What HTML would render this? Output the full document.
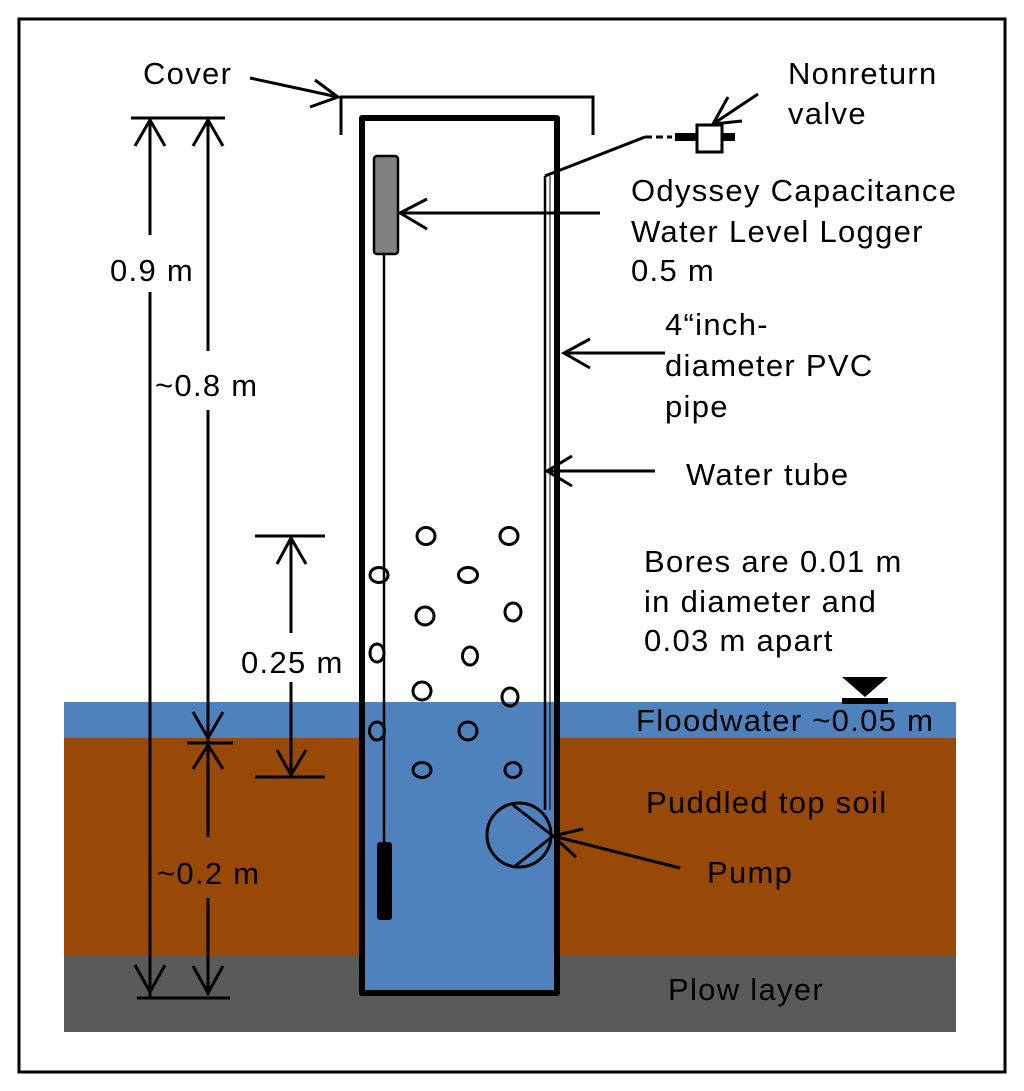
<!DOCTYPE html>
<html><head><meta charset="utf-8"><style>
html,body{margin:0;padding:0;background:#fff}
svg{display:block}
text{font-family:"Liberation Sans",Arial,sans-serif;font-size:31px;letter-spacing:1.3px;fill:#000}
</style></head><body>
<svg width="1024" height="1091" viewBox="0 0 1024 1091" xmlns="http://www.w3.org/2000/svg">
<rect x="19" y="19" width="986" height="1053" fill="#fff" stroke="#000" stroke-width="3"/>
<rect x="64" y="702" width="892" height="36" fill="#4f81bd"/>
<rect x="64" y="738" width="892" height="217" fill="#984807"/>
<rect x="64" y="955" width="892" height="77" fill="#5a5a5a"/>
<rect x="362" y="702" width="195" height="291" fill="#4f81bd"/>
<rect x="362" y="118" width="195" height="875" fill="none" stroke="#000" stroke-width="6" stroke-linejoin="round"/>
<polyline points="341,135 341,97 593,97 593,135" fill="none" stroke="#000" stroke-width="3"/>
<line x1="250" y1="78" x2="338" y2="97" stroke="#000" stroke-width="3"/>
<polyline points="315,80 338,97 310,107" fill="none" stroke="#000" stroke-width="3"/>
<rect x="374" y="156" width="24" height="98" rx="3" fill="#808080" stroke="#000" stroke-width="2.5"/>
<line x1="384" y1="254" x2="384" y2="843" stroke="#000" stroke-width="2.5"/>
<rect x="377" y="842" width="15" height="78" rx="3" fill="#000"/>
<line x1="600" y1="213" x2="400" y2="213" stroke="#000" stroke-width="3"/>
<polyline points="427,199 400,213 427,229" fill="none" stroke="#000" stroke-width="3"/>
<line x1="545" y1="176" x2="545" y2="810" stroke="#000" stroke-width="2.5"/>
<line x1="550" y1="176" x2="550" y2="810" stroke="#000" stroke-width="1"/>
<line x1="545" y1="176" x2="645" y2="137" stroke="#000" stroke-width="3"/>
<line x1="645" y1="137" x2="672" y2="137" stroke="#000" stroke-width="3" stroke-dasharray="7,4"/>
<rect x="675" y="133" width="22" height="8" fill="#000"/>
<rect x="722" y="133" width="13" height="8" fill="#000"/>
<rect x="697" y="125" width="25" height="27" fill="#fff" stroke="#000" stroke-width="3"/>
<line x1="728" y1="97" x2="713" y2="124" stroke="#000" stroke-width="3"/>
<line x1="758" y1="94" x2="713" y2="124" stroke="#000" stroke-width="3"/>
<line x1="742" y1="121" x2="713" y2="124" stroke="#000" stroke-width="3"/>
<line x1="665" y1="353" x2="564" y2="353" stroke="#000" stroke-width="3"/>
<polyline points="590,339 564,353 590,368" fill="none" stroke="#000" stroke-width="3"/>
<line x1="655" y1="471" x2="547" y2="471" stroke="#000" stroke-width="3"/>
<polyline points="572,456 547,471 572,486" fill="none" stroke="#000" stroke-width="3"/>
<g fill="none" stroke="#000" stroke-width="3">
<ellipse cx="426" cy="536" rx="9" ry="8.5"/><ellipse cx="509" cy="536" rx="9" ry="8.5"/>
<ellipse cx="379" cy="575" rx="9" ry="7.5"/><ellipse cx="468" cy="575" rx="9.5" ry="7.5"/>
<ellipse cx="425" cy="616" rx="9" ry="9"/><ellipse cx="513" cy="612" rx="8" ry="9"/>
<ellipse cx="377" cy="653" rx="7" ry="9"/><ellipse cx="470" cy="656" rx="7.5" ry="9"/>
<ellipse cx="422" cy="691" rx="9" ry="9"/><ellipse cx="510" cy="697" rx="8" ry="9"/>
<ellipse cx="377" cy="731" rx="7.5" ry="9"/><ellipse cx="468" cy="731" rx="9" ry="9"/>
<ellipse cx="422" cy="770" rx="9" ry="7.5"/><ellipse cx="513" cy="770" rx="8" ry="7.5"/>
<circle cx="519" cy="835" r="32"/>
<polyline points="513,805 553,836 514,867"/>
<line x1="553" y1="836" x2="680" y2="868"/>
<polyline points="583,829 553,836 576,857"/>
</g>
<polygon points="842,677 888,677 865,697" fill="#000"/>
<rect x="842" y="698" width="46" height="6" fill="#000"/>
<g stroke="#000" stroke-width="3" fill="none">
<line x1="131" y1="118" x2="225" y2="118"/>
<line x1="150" y1="118" x2="150" y2="235"/>
<line x1="150" y1="292" x2="150" y2="998"/>
<polyline points="135,146 150,120 165,146"/>
<line x1="137" y1="998" x2="230" y2="998"/>
<polyline points="135,965 150,992 165,965"/>
<line x1="208" y1="118" x2="208" y2="351"/>
<line x1="208" y1="410" x2="208" y2="742"/>
<polyline points="193,146 208,120 223,146"/>
<polyline points="193,712 208,738 223,712"/>
<line x1="187" y1="743" x2="233" y2="743"/>
<polyline points="193,769 208,745 223,769"/>
<line x1="208" y1="745" x2="208" y2="837"/>
<line x1="208" y1="898" x2="208" y2="995"/>
<polyline points="193,966 208,993 223,966"/>
<line x1="255" y1="536" x2="325" y2="536"/>
<line x1="291" y1="538" x2="291" y2="633"/>
<line x1="291" y1="682" x2="291" y2="776"/>
<polyline points="277,564 291,538 306,564"/>
<polyline points="277,750 291,775 306,750"/>
<line x1="255" y1="777" x2="325" y2="777"/>
</g>
<text x="143" y="84">Cover</text>
<text x="788" y="84">Nonreturn</text>
<text x="788" y="124">valve</text>
<text x="631" y="201">Odyssey Capacitance</text>
<text x="631" y="242">Water Level Logger</text>
<text x="631" y="281">0.5 m</text>
<text x="665" y="335">4“inch-</text>
<text x="665" y="376">diameter PVC</text>
<text x="665" y="417">pipe</text>
<text x="686" y="485">Water tube</text>
<text x="644" y="572">Bores are 0.01 m</text>
<text x="644" y="612">in diameter and</text>
<text x="644" y="651">0.03 m apart</text>
<text x="636" y="731">Floodwater  ~0.05 m</text>
<text x="646" y="813">Puddled top soil</text>
<text x="707" y="883">Pump</text>
<text x="668" y="1000">Plow layer</text>
<text x="110" y="281">0.9 m</text>
<text x="155" y="396">~0.8 m</text>
<text x="157" y="884">~0.2 m</text>
<text x="241" y="673">0.25 m</text>
</svg>
</body></html>
